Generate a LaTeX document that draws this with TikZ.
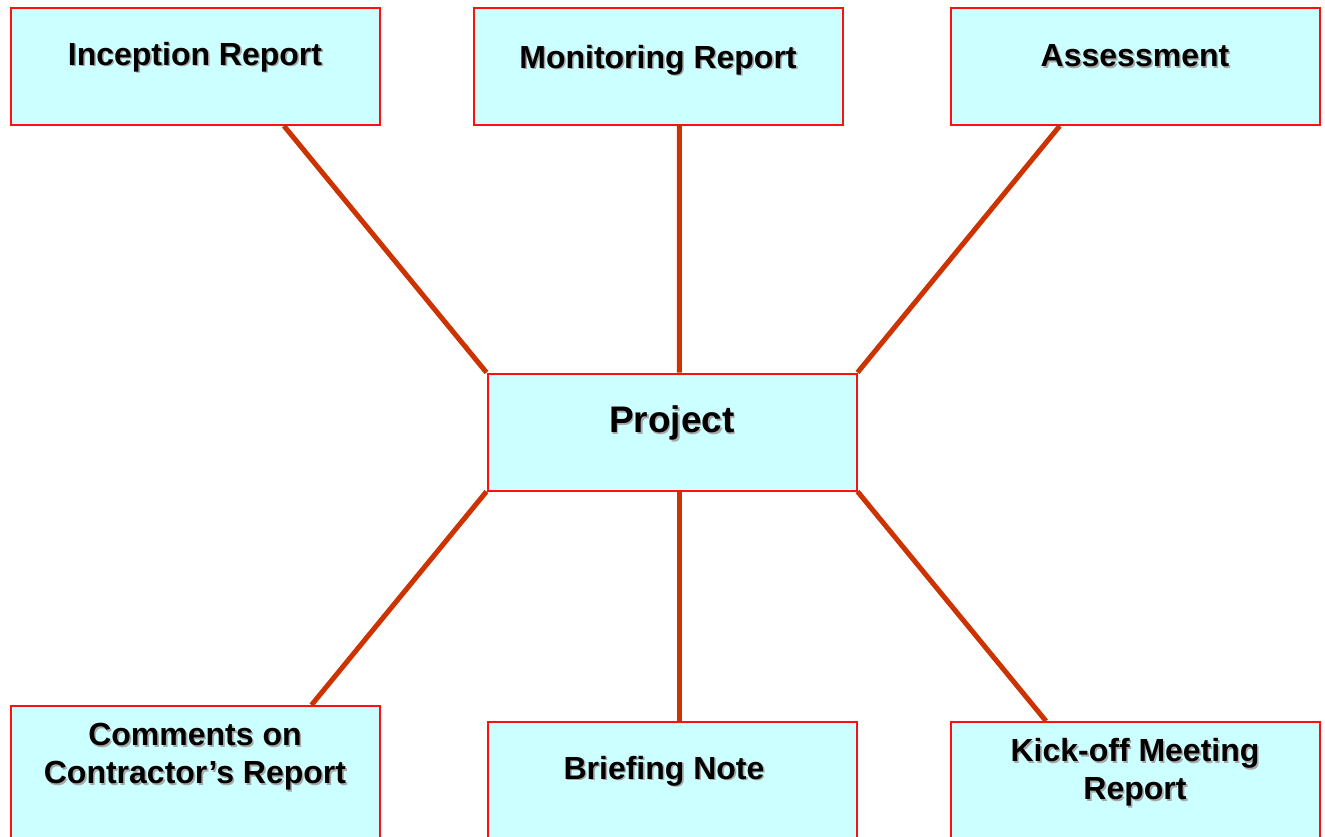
\documentclass[tikz,border=0pt]{standalone}
\usepackage{fontspec}
\setmainfont{Liberation Sans}
\usetikzlibrary{calc,backgrounds}
\definecolor{boxfill}{HTML}{CCFFFF}
\definecolor{boxline}{HTML}{FF1010}
\definecolor{linkcol}{HTML}{CC3300}
\definecolor{shade}{HTML}{A8A8A8}

% text with a soft grey drop shadow
\newcommand\shadowed[4]{%
  \node[shadowtext,#2] (#1s) at #3 {#4};
  \node[boxtext,#2] (#1t) at #3 {#4};
}

\begin{document}
\begin{tikzpicture}[x=1pt,y=-1pt,
  box/.style={draw=boxline, line width=2pt, fill=boxfill,
    minimum width=369pt, minimum height=117pt, inner sep=0pt},
  boxtext/.style={font=\bfseries\fontsize{32}{38}\selectfont,
    align=center, inner sep=0pt, text=black},
  bigtext/.style={font=\bfseries\fontsize{37}{44}\selectfont},
  shadowtext/.style={boxtext, text=shade, xshift=1.6pt, yshift=-1.6pt},
  link/.style={draw=linkcol, line width=5pt}]

\clip (0,0) rectangle (1325,837);

% boxes
\node[box] (inc)  at (195,66.5)   {};
\node[box] (mon)  at (658.5,66.5) {};
\node[box] (ass)  at (1135,66.5)  {};
\node[box] (proj) at (672,432)    {};
\node[box, minimum height=150pt] (com)  at (195,781)  {};
\node[box, minimum height=150pt] (brf)  at (672,797)  {};
\node[box, minimum height=150pt] (kick) at (1135,797) {};

% connectors, behind the boxes
\begin{pgfonlayer}{background}
  \draw[link] ($(inc.south west)!0.74!(inc.south east)$) -- (proj.north west);
  \draw[link] ($(mon.south west)!0.556!(mon.south east)$) -- ($(proj.north west)!0.52!(proj.north east)$);
  \draw[link] ($(ass.south west)!0.297!(ass.south east)$) -- (proj.north east);
  \draw[link] (proj.south west) -- ($(com.north west)!0.814!(com.north east)$);
  \draw[link] ($(proj.south west)!0.52!(proj.south east)$) -- ($(brf.north west)!0.52!(brf.north east)$);
  \draw[link] (proj.south east) -- ($(kick.north west)!0.26!(kick.north east)$);
\end{pgfonlayer}

% labels
\shadowed{inc}{}{(195,57)}{Inception Report}
\shadowed{mon}{}{(658,60)}{Monitoring Report}
\shadowed{ass}{}{(1135,56)}{Assessment}
\shadowed{proj}{bigtext}{(672,423)}{Project}
\shadowed{com}{}{(195,757)}{Comments on\\Contractor’s Report}
\shadowed{brf}{}{(664,771)}{Briefing Note}
\shadowed{kick}{}{(1135,772.5)}{Kick-off Meeting\\Report}

\end{tikzpicture}
\end{document}
